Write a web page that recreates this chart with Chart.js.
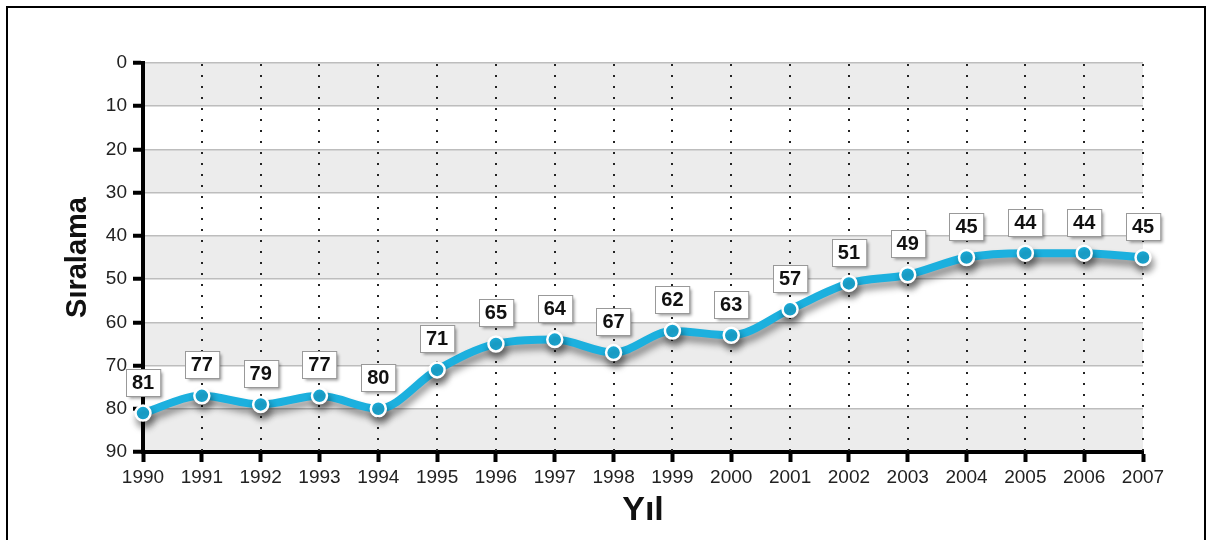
<!DOCTYPE html>
<html lang="tr">
<head>
<meta charset="utf-8">
<title>Sıralama</title>
<script src="https://cdn.jsdelivr.net/npm/chart.js@4/dist/chart.umd.min.js"></script>
<style>
  html, body { margin: 0; padding: 0; background: #fff; overflow: hidden; }
  #wrap { position: relative; width: 1209px; height: 540px; }
  #frame {
    position: absolute; left: 6px; top: 6px;
    width: 1200px; height: 600px;
    box-sizing: border-box;
    border: 2px solid #000;
    pointer-events: none;
  }
</style>
</head>
<body>
<div id="wrap">
  <canvas id="rankChart" width="1209" height="540"></canvas>
  <div id="frame"></div>
</div>
<script>
// ------------------------------------------------------------
// VERİ
// ------------------------------------------------------------
const yillar = ["1990", "1991", "1992", "1993", "1994", "1995", "1996", "1997", "1998",
  "1999", "2000", "2001", "2002", "2003", "2004", "2005", "2006", "2007"];
const siralama = [81, 77, 79, 77, 80, 71, 65, 64, 67, 62, 63, 57, 51, 49, 45, 44, 44, 45];

const yMin = 0;
const yMax = 90;
const yAdim = 10;

const CIZGI_RENK = "#1cb0de";
const FONT = "'Liberation Sans', Arial, sans-serif";

// ------------------------------------------------------------
// ARKA PLAN ŞERİTLERİ (gri / beyaz)
// ------------------------------------------------------------
const seritPlugin = {
  id: "seritler",
  beforeDraw(chart) {
    const { ctx, chartArea, scales } = chart;
    const y = scales.y;
    ctx.save();
    ctx.fillStyle = "#ececec";
    for (let v = yMin; v < yMax; v += yAdim * 2) {
      const y1 = y.getPixelForValue(v);
      const y2 = y.getPixelForValue(v + yAdim);
      ctx.fillRect(chartArea.left, y1, chartArea.right - chartArea.left, y2 - y1);
    }
    ctx.restore();
  },
  // noktalı dikey çizgiler
  beforeDatasetsDraw(chart) {
    const { ctx, chartArea, scales } = chart;
    const x = scales.x;
    ctx.save();
    ctx.strokeStyle = "#222";
    ctx.lineWidth = 2;
    ctx.setLineDash([2, 9]);
    for (let i = 1; i < yillar.length; i++) {
      const px = Math.round(x.getPixelForValue(i));
      ctx.beginPath();
      ctx.moveTo(px, chartArea.top + 1);
      ctx.lineTo(px, chartArea.bottom);
      ctx.stroke();
    }
    ctx.restore();
  }
};

// ------------------------------------------------------------
// ÇİZGİ GÖLGESİ
// ------------------------------------------------------------
const golgePlugin = {
  id: "golge",
  beforeDatasetDraw(chart) {
    const ctx = chart.ctx;
    ctx.save();
    ctx.shadowColor = "rgba(0,0,0,0.42)";
    ctx.shadowBlur = 7;
    ctx.shadowOffsetX = 2;
    ctx.shadowOffsetY = 6;
  },
  afterDatasetDraw(chart) {
    chart.ctx.restore();
  }
};

// ------------------------------------------------------------
// DEĞER KUTULARI
// ------------------------------------------------------------
const etiketPlugin = {
  id: "etiketler",
  afterDatasetsDraw(chart) {
    const { ctx } = chart;
    const meta = chart.getDatasetMeta(0);
    const data = chart.data.datasets[0].data;
    ctx.save();
    ctx.font = "bold 20px " + FONT;
    ctx.textAlign = "center";
    ctx.textBaseline = "middle";
    meta.data.forEach((pt, i) => {
      const txt = String(data[i]);
      const w = Math.max(34, ctx.measureText(txt).width + 12);
      const h = 27;
      const cx = pt.x;
      const cy = pt.y - 31;
      const bx = Math.round(cx - w / 2) + 0.5;
      const by = Math.round(cy - h / 2) + 0.5;

      ctx.save();
      ctx.shadowColor = "rgba(0,0,0,0.4)";
      ctx.shadowBlur = 3;
      ctx.shadowOffsetX = 2;
      ctx.shadowOffsetY = 2;
      ctx.fillStyle = "#fff";
      ctx.fillRect(bx, by, w, h);
      ctx.restore();

      ctx.strokeStyle = "#999";
      ctx.lineWidth = 1;
      ctx.strokeRect(bx, by, w, h);

      ctx.fillStyle = "#111";
      ctx.fillText(txt, cx, cy + 1);
    });
    ctx.restore();
  }
};

// ------------------------------------------------------------
// GRAFİK
// ------------------------------------------------------------
new Chart(document.getElementById("rankChart"), {
  type: "line",
  data: {
    labels: yillar,
    datasets: [{
      label: "Sıralama",
      data: siralama,
      borderColor: CIZGI_RENK,
      borderWidth: 8,
      cubicInterpolationMode: "monotone",
      pointRadius: 7.5,
      pointBackgroundColor: CIZGI_RENK,
      pointBorderColor: "#fff",
      pointBorderWidth: 2.5,
      clip: false
    }]
  },
  options: {
    responsive: false,
    animation: false,
    layout: { padding: { top: 63, right: 66, left: 0, bottom: 0 } },
    plugins: {
      legend: { display: false },
      tooltip: { enabled: false }
    },
    scales: {
      x: {
        type: "category",
        offset: false,
        afterFit: (s) => { s.height = 88; },
        grid: {
          drawOnChartArea: false,
          tickLength: 10,
          tickWidth: 4,
          tickColor: "#000"
        },
        border: { color: "#000", width: 4 },
        ticks: {
          color: "#222",
          font: { family: FONT, size: 19 },
          padding: 4,
          maxRotation: 0,
          autoSkip: false
        },
        title: {
          display: true,
          text: "Yıl",
          color: "#111",
          font: { family: FONT, size: 34, weight: "bold" },
          padding: { top: 0, bottom: 9 }
        }
      },
      y: {
        reverse: true,
        min: yMin,
        max: yMax,
        afterFit: (s) => { s.width = 143; },
        grid: {
          color: "#bdbdbd",
          lineWidth: 1.5,
          tickLength: 10,
          tickWidth: 4,
          tickColor: "#000"
        },
        border: { color: "#000", width: 4 },
        ticks: {
          stepSize: yAdim,
          color: "#222",
          font: { family: FONT, size: 19 },
          padding: 6
        },
        title: {
          display: true,
          text: "Sıralama",
          color: "#111",
          font: { family: FONT, size: 29, weight: "bold" },
          padding: { top: 61, bottom: 0 }
        }
      }
    }
  },
  plugins: [seritPlugin, golgePlugin, etiketPlugin]
});
</script>
</body>
</html>
